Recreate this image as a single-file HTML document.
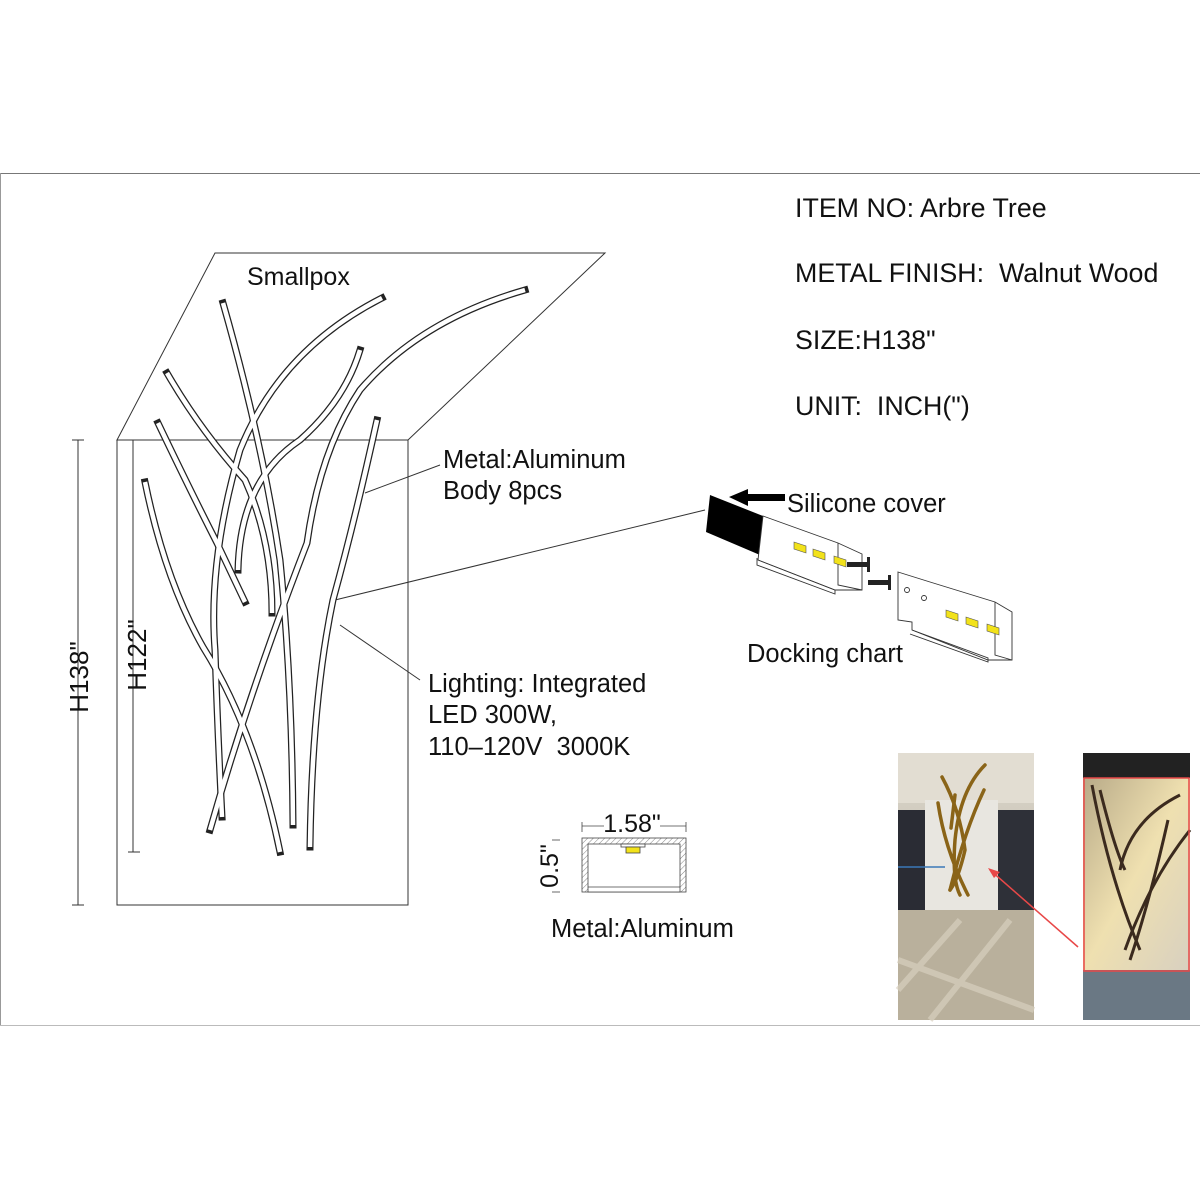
<!DOCTYPE html>
<html><head><meta charset="utf-8"><style>
html,body{margin:0;padding:0;background:#fff;}
svg{display:block;}
text{font-family:"Liberation Sans",Arial,sans-serif;fill:#111;}
</style></head><body>
<svg width="1200" height="1200" viewBox="0 0 1200 1200" xmlns="http://www.w3.org/2000/svg">
<defs>
<linearGradient id="wall" x1="0" y1="0" x2="0" y2="1">
<stop offset="0" stop-color="#d9d4c8"/><stop offset="0.55" stop-color="#c8c2b6"/><stop offset="1" stop-color="#b8b0a0"/></linearGradient>
<linearGradient id="glow" x1="0" y1="0" x2="1" y2="1">
<stop offset="0" stop-color="#b8aa88"/><stop offset="0.5" stop-color="#efe0b0"/><stop offset="1" stop-color="#d8d0c0"/></linearGradient>
<pattern id="hatch" width="4" height="4" patternUnits="userSpaceOnUse" patternTransform="rotate(45)">
<line x1="0" y1="0" x2="0" y2="4" stroke="#666" stroke-width="0.8"/></pattern>
</defs>
<line x1="0" y1="173.5" x2="1200" y2="173.5" stroke="#777" stroke-width="1"/>
<line x1="0.5" y1="173" x2="0.5" y2="1025" stroke="#999" stroke-width="1"/>
<line x1="0" y1="1025.5" x2="1200" y2="1025.5" stroke="#bbb" stroke-width="1"/>

<g fill="none" stroke="#333" stroke-width="1">
<polygon points="215,253 605,253 408,440 117,440"/>
<rect x="117" y="440" width="291" height="465"/>
<line x1="78" y1="440" x2="78" y2="905"/><line x1="72" y1="440" x2="84" y2="440"/><line x1="72" y1="905" x2="84" y2="905"/>
<line x1="133" y1="440" x2="133" y2="852"/><line x1="128" y1="852" x2="140" y2="852"/>
<line x1="365" y1="493" x2="440" y2="465"/>
<line x1="335" y1="600" x2="705" y2="510"/>
<line x1="340" y1="625" x2="420" y2="680"/>
</g>

<g fill="none">
<g stroke="#222" stroke-width="7" stroke-linecap="square">
<path d="M223,303 Q262,440 280,560 Q292,680 293,825"/>
<path d="M382,298 Q280,350 240,450 Q208,560 215,650 Q218,740 222,817"/>
<path d="M360,350 Q345,400 300,440 Q240,480 238,570"/>
<path d="M525,290 Q420,320 360,390 Q320,450 307,543 Q250,690 210,830"/>
<path d="M377,420 Q355,520 333,600 Q312,700 310,847"/>
<path d="M167,373 Q200,430 245,480 Q272,540 272,613"/>
<path d="M158,423 Q190,490 217,543 L245,602"/>
<path d="M145,482 Q165,580 203,647 Q255,730 280,852"/>
</g>
<g stroke="#fff" stroke-width="4.5" stroke-linecap="butt">
<path d="M223,303 Q262,440 280,560 Q292,680 293,825"/>
<path d="M382,298 Q280,350 240,450 Q208,560 215,650 Q218,740 222,817"/>
<path d="M360,350 Q345,400 300,440 Q240,480 238,570"/>
<path d="M525,290 Q420,320 360,390 Q320,450 307,543 Q250,690 210,830"/>
<path d="M377,420 Q355,520 333,600 Q312,700 310,847"/>
<path d="M167,373 Q200,430 245,480 Q272,540 272,613"/>
<path d="M158,423 Q190,490 217,543 L245,602"/>
<path d="M145,482 Q165,580 203,647 Q255,730 280,852"/>
</g>
</g>

<text x="247" y="285" font-size="25">Smallpox</text>
<text x="443" y="468" font-size="25.5">Metal:Aluminum</text>
<text x="443" y="499" font-size="25.5">Body 8pcs</text>
<text x="428" y="692" font-size="25.5">Lighting: Integrated</text>
<text x="428" y="723" font-size="25.5">LED 300W,</text>
<text x="428" y="755" font-size="25.5" xml:space="preserve">110–120V  3000K</text>
<text transform="translate(88,677) rotate(-90)" font-size="26" text-anchor="middle">H138"</text>
<text transform="translate(146,655) rotate(-90)" font-size="26" text-anchor="middle">H122"</text>

<text x="795" y="217" font-size="26.8">ITEM NO: Arbre Tree</text>
<text x="795" y="282" font-size="26.8" xml:space="preserve">METAL FINISH:  Walnut Wood</text>
<text x="795" y="349" font-size="26.8">SIZE:H138"</text>
<text x="795" y="415" font-size="26.8" xml:space="preserve">UNIT:  INCH(")</text>

<polygon points="710,495 763,516 760,555 706,532" fill="#000"/>
<polygon points="729,497 748,489 748,494 785,494 785,501 748,501 748,506" fill="#000"/>
<text x="787" y="512" font-size="25.5">Silicone cover</text>
<g fill="#fff" stroke="#333" stroke-width="0.9">
<polygon points="763,516 838,543 862,554 862,590 835,590 758,560"/>
<polyline points="758,560 835,590 835,594 757,565 757,558" fill="none"/>
<polyline points="838,543 838,585 862,590" fill="none"/>
<polygon points="898,572 930,582 995,602 1012,612 1012,660 988,660 912,630 912,622 898,620"/>
<polyline points="912,630 988,658 988,662 910,634" fill="none"/>
<polyline points="995,602 995,655 1012,660" fill="none"/>
<circle cx="907" cy="590" r="2.5"/><circle cx="924" cy="598" r="2.5"/>
</g>
<g fill="#f2e21a" stroke="#555" stroke-width="0.6">
<polygon points="794,542 806,546 806,553 794,549"/>
<polygon points="813,549 825,553 825,560 813,556"/>
<polygon points="834,556 846,560 846,567 834,563"/>
<polygon points="946,610 958,614 958,621 946,617"/>
<polygon points="966,617 978,621 978,628 966,624"/>
<polygon points="987,624 999,628 999,635 987,631"/>
</g>
<rect x="847" y="562" width="20" height="5" fill="#222"/><polygon points="867,557 870,557 870,572 867,572" fill="#222"/>
<rect x="868" y="580" width="20" height="5" fill="#222"/><polygon points="888,575 891,575 891,590 888,590" fill="#222"/>
<text x="747" y="662" font-size="25.5">Docking chart</text>

<g stroke="#444" stroke-width="0.8">
<line x1="582" y1="822" x2="582" y2="832" /><line x1="582" y1="826" x2="604" y2="826"/>
<line x1="660" y1="826" x2="686" y2="826"/><line x1="686" y1="822" x2="686" y2="832"/>
<rect x="582" y="838" width="104" height="54" fill="url(#hatch)"/>
<rect x="588" y="844" width="92" height="48" fill="#fff"/>
<line x1="588" y1="887" x2="680" y2="887"/>
<rect x="621" y="844" width="24" height="3" fill="#fff"/>
<rect x="626" y="847" width="14" height="6" fill="#f2e21a"/>
<line x1="552" y1="840" x2="560" y2="840"/><line x1="552" y1="892" x2="560" y2="892"/>
</g>
<text x="632" y="832" font-size="25" text-anchor="middle">1.58"</text>
<text transform="translate(558,866) rotate(-90)" font-size="25" text-anchor="middle">0.5"</text>
<text x="551" y="937" font-size="25.5">Metal:Aluminum</text>

<rect x="898" y="753" width="136" height="267" fill="url(#wall)"/>
<rect x="898" y="753" width="136" height="50" fill="#e2ddd2"/>
<rect x="898" y="810" width="28" height="100" fill="#2a2c34"/>
<rect x="998" y="810" width="36" height="100" fill="#2e3038"/>
<rect x="925" y="800" width="73" height="112" fill="#e8e6e0"/>
<rect x="898" y="910" width="136" height="110" fill="#b9b09c"/>
<g stroke="#d8d0bf" stroke-width="6" opacity="0.7"><line x1="898" y1="960" x2="1034" y2="1010"/><line x1="930" y1="1020" x2="1010" y2="920"/><line x1="898" y1="990" x2="960" y2="920"/></g>
<g stroke="#8a6418" stroke-width="3.5" fill="none" stroke-linecap="round">
<path d="M985,765 Q960,790 955,840 Q952,880 960,895"/>
<path d="M942,777 Q960,810 965,850 Q958,880 950,890"/>
<path d="M938,803 Q945,850 968,895"/>
<path d="M984,790 Q965,830 950,890"/>
<path d="M955,795 L951,828"/>
</g>
<line x1="898" y1="867" x2="945" y2="867" stroke="#3a78b8" stroke-width="1.5"/>
<rect x="1083" y="753" width="107" height="267" fill="#c9c4bb"/>
<rect x="1083" y="753" width="107" height="25" fill="#222"/>
<rect x="1083" y="778" width="107" height="192" fill="url(#glow)"/>
<rect x="1083" y="970" width="107" height="50" fill="#6a7884"/>
<g stroke="#3b2a1e" stroke-width="3" fill="none">
<path d="M1092,785 Q1110,880 1140,950"/><path d="M1100,790 Q1115,850 1125,870"/>
<path d="M1180,795 Q1130,820 1120,870"/><path d="M1168,820 Q1150,900 1130,960"/>
<path d="M1190,830 Q1150,880 1125,950"/>
</g>
<rect x="1084" y="778" width="105" height="193" fill="none" stroke="#e84848" stroke-width="1.5"/>
<line x1="1078" y1="947" x2="990" y2="870" stroke="#e84848" stroke-width="1.5"/>
<polygon points="988,868 1000,872 994,878" fill="#e84848"/>
</svg>
</body></html>
